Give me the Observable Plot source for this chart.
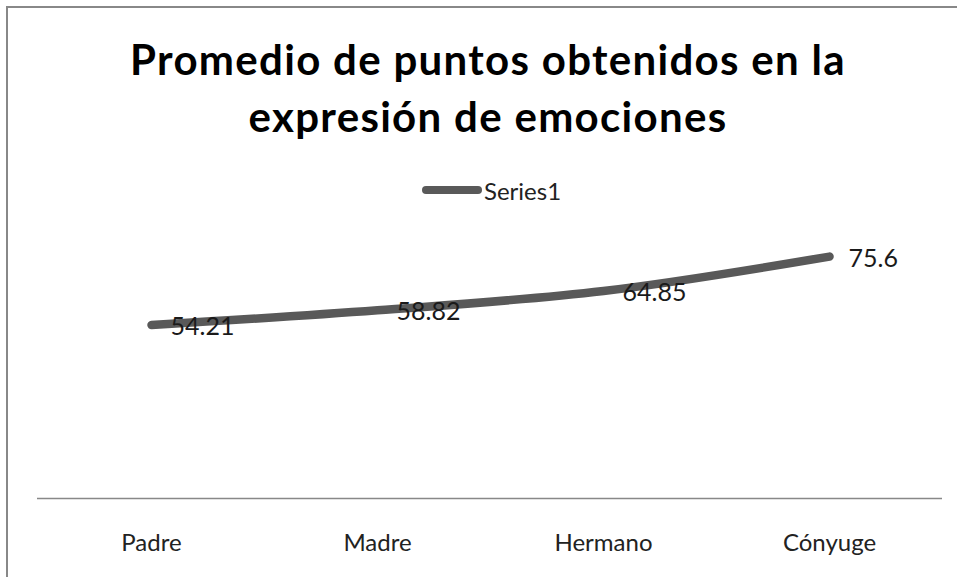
<!DOCTYPE html>
<html>
<head>
<meta charset="utf-8">
<script src="https://cdn.jsdelivr.net/npm/d3@7"></script>
<script src="https://cdn.jsdelivr.net/npm/@observablehq/plot@0.6"></script>
<style>
  html, body { margin: 0; padding: 0; background: #fff; }
  body { width: 957px; height: 577px; position: relative; overflow: hidden; font-family: Lato, "Open Sans", sans-serif; }
  #bt { position: absolute; left: 6px; top: 6px; width: 951px; height: 2px; background: #888; }
  #bl { position: absolute; left: 6px; top: 6px; width: 2px; height: 571px; background: #888; }
  #title { position: absolute; left: 7px; top: 31px; width: 962px; text-align: center;
           font-family: Lato, sans-serif; font-weight: bold; font-size: 42px; line-height: 57px;
           letter-spacing: 1.3px; color: #000; }
  #legend { position: absolute; left: 420px; top: 176px; height: 28px; display: flex; align-items: center;
            font-size: 24px; color: #222; }
  #legend svg { display: block; }
  #chart { position: absolute; left: 0; top: 200px; }
</style>
</head>
<body>
<div id="bt"></div>
<div id="bl"></div>
<div id="title">Promedio de puntos obtenidos en la<br>expresión de emociones</div>
<div id="legend"><svg width="64" height="14"><line x1="6" y1="7" x2="58" y2="7" stroke="#595959" stroke-width="8" stroke-linecap="round"/></svg><span>Series1</span></div>
<div id="chart"></div>
<script>
const categories = ["Padre", "Madre", "Hermano", "Cónyuge"];
const values = [54.21, 58.82, 64.85, 75.6];
const labels = ["54.21", "58.82", "64.85", "75.6"];
const seriesName = "Series1";

const data = categories.map((c, i) => ({category: c, value: values[i], label: labels[i], series: seriesName}));

const chart = Plot.plot({
  width: 957,
  height: 377,
  marginTop: 10,
  marginBottom: 79,
  marginLeft: 37,
  marginRight: 15,
  style: {fontFamily: "Lato, sans-serif", background: "transparent"},
  x: {type: "point", domain: categories, padding: 0.5, axis: null},
  y: {domain: [0, 90], axis: null},
  marks: [
    Plot.ruleY([0], {stroke: "#888", strokeWidth: 1.5}),
    Plot.axisX({tickSize: 0, tickPadding: 35, fontSize: 24, color: "#222", label: null}),
    Plot.line(data, {x: "category", y: "value", stroke: "#595959", strokeWidth: 8.5,
      curve: "catmull-rom", strokeLinecap: "round", strokeLinejoin: "round"}),
    Plot.text(data, {x: "category", y: "value", text: "label", textAnchor: "start", dx: 19, dy: 2,
      fontSize: 25, fill: "#1a1a1a"})
  ]
});
document.getElementById("chart").appendChild(chart);
</script>
</body>
</html>
